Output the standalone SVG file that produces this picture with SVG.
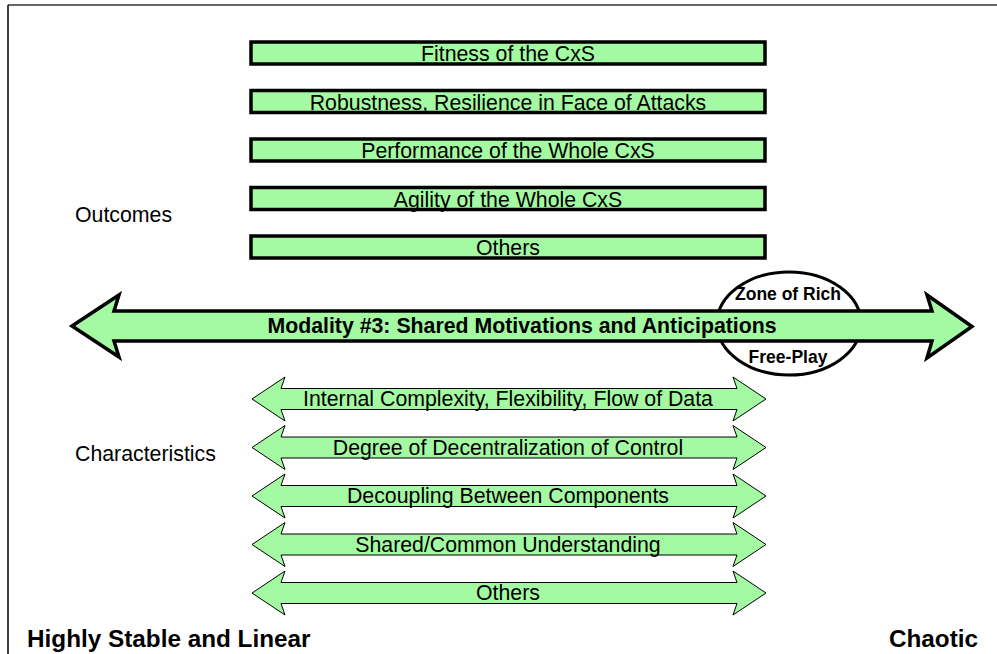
<svg xmlns="http://www.w3.org/2000/svg" width="997" height="654" viewBox="0 0 997 654">
  <style>
    .lbl { font-family: "Liberation Sans", Arial, sans-serif; font-size: 21.3px; fill: #000; }
    .mid { text-anchor: middle; }
    .bold { font-weight: bold; }
    .box { fill: #a3faa3; stroke: #000; stroke-width: 3.5; }
    .char { fill: #a3faa3; stroke: #000; stroke-width: 1; stroke-linejoin: miter; }
    .main { fill: #a3faa3; stroke: #000; stroke-width: 3.5; stroke-linejoin: miter; }
  </style>

  <!-- page frame -->
  <g id="frame">
    <line x1="8" y1="5" x2="997" y2="5" stroke="#666" stroke-width="2"/>
    <line x1="8" y1="5" x2="8" y2="654" stroke="#000" stroke-width="1.5"/>
  </g>

  <!-- outcome bars -->
  <g id="outcome-fitness">
    <rect class="box" x="251" y="42" width="514" height="22"/>
    <text class="lbl mid" x="508" y="61">Fitness of the CxS</text>
  </g>
  <g id="outcome-robustness">
    <rect class="box" x="251" y="90.5" width="514" height="22"/>
    <text class="lbl mid" x="508" y="109.5">Robustness, Resilience in Face of Attacks</text>
  </g>
  <g id="outcome-performance">
    <rect class="box" x="251" y="139" width="514" height="22"/>
    <text class="lbl mid" x="508" y="158">Performance of the Whole CxS</text>
  </g>
  <g id="outcome-agility">
    <rect class="box" x="251" y="187.5" width="514" height="22"/>
    <text class="lbl mid" x="508" y="206.5">Agility of the Whole CxS</text>
  </g>
  <g id="outcome-others">
    <rect class="box" x="251" y="236" width="514" height="22"/>
    <text class="lbl mid" x="508" y="255">Others</text>
  </g>

  <g id="label-outcomes">
    <text class="lbl" x="75" y="222">Outcomes</text>
  </g>
  <g id="label-characteristics">
    <text class="lbl" x="75" y="461">Characteristics</text>
  </g>

  <!-- zone ellipse behind the modality arrow -->
  <g id="zone">
    <ellipse cx="789" cy="323.5" rx="72" ry="51.5" fill="#fff" stroke="#000" stroke-width="3"/>
    <text class="lbl mid bold" style="font-size:17.5px" x="788" y="300">Zone of Rich</text>
    <text class="lbl mid bold" style="font-size:17.5px" x="788" y="363">Free-Play</text>
  </g>

  <!-- modality double arrow -->
  <g id="modality">
    <polygon class="main" points="72,326 119,295 114,311 932,311 927,295 972,326.5 927,358 932,341 114,341 119,357"/>
    <text class="lbl mid bold" x="522" y="333">Modality #3: Shared Motivations and Anticipations</text>
  </g>

  <!-- characteristic double arrows -->
  <g id="char-complexity">
    <polygon class="char" points="252,399 285,377 281,388.5 737,388.5 733,377 766,399 733,421 737,409.5 281,409.5 285,421"/>
    <text class="lbl mid" x="508" y="406">Internal Complexity, Flexibility, Flow of Data</text>
  </g>
  <g id="char-decentralization">
    <polygon class="char" points="252,447.5 285,425.5 281,437 737,437 733,425.5 766,447.5 733,469.5 737,458 281,458 285,469.5"/>
    <text class="lbl mid" x="508" y="454.5">Degree of Decentralization of Control</text>
  </g>
  <g id="char-decoupling">
    <polygon class="char" points="252,496 285,474 281,485.5 737,485.5 733,474 766,496 733,518 737,506.5 281,506.5 285,518"/>
    <text class="lbl mid" x="508" y="503">Decoupling Between Components</text>
  </g>
  <g id="char-understanding">
    <polygon class="char" points="252,544.5 285,522.5 281,534 737,534 733,522.5 766,544.5 733,566.5 737,555 281,555 285,566.5"/>
    <text class="lbl mid" x="508" y="551.5">Shared/Common Understanding</text>
  </g>
  <g id="char-others">
    <polygon class="char" points="252,593 285,571 281,582.5 737,582.5 733,571 766,593 733,615 737,603.5 281,603.5 285,615"/>
    <text class="lbl mid" x="508" y="600">Others</text>
  </g>

  <!-- axis end labels -->
  <g id="axis-labels">
    <text class="lbl bold" style="font-size:24.3px" x="27" y="647">Highly Stable and Linear</text>
    <text class="lbl bold" style="font-size:24.3px; text-anchor:end" x="978" y="647">Chaotic</text>
  </g>
</svg>
